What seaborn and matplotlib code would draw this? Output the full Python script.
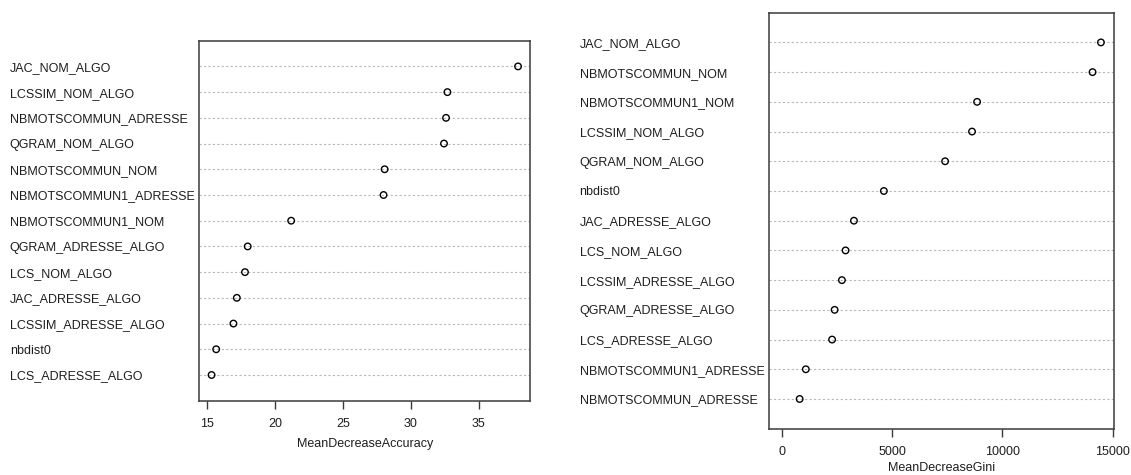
import matplotlib
matplotlib.use("Agg")
import matplotlib.pyplot as plt
import seaborn as sns
import pandas as pd

# ---- data ----
acc_features = ["JAC_NOM_ALGO", "LCSSIM_NOM_ALGO", "NBMOTSCOMMUN_ADRESSE", "QGRAM_NOM_ALGO",
                "NBMOTSCOMMUN_NOM", "NBMOTSCOMMUN1_ADRESSE", "NBMOTSCOMMUN1_NOM",
                "QGRAM_ADRESSE_ALGO", "LCS_NOM_ALGO", "JAC_ADRESSE_ALGO",
                "LCSSIM_ADRESSE_ALGO", "nbdist0", "LCS_ADRESSE_ALGO"]
acc_values = [37.9, 32.7, 32.6, 32.45, 28.08, 28.0, 21.2, 18.0, 17.8, 17.2, 16.95, 15.68, 15.34]
acc_ticks = [15, 20, 25, 30, 35]

gini_features = ["JAC_NOM_ALGO", "NBMOTSCOMMUN_NOM", "NBMOTSCOMMUN1_NOM", "LCSSIM_NOM_ALGO",
                 "QGRAM_NOM_ALGO", "nbdist0", "JAC_ADRESSE_ALGO", "LCS_NOM_ALGO",
                 "LCSSIM_ADRESSE_ALGO", "QGRAM_ADRESSE_ALGO", "LCS_ADRESSE_ALGO",
                 "NBMOTSCOMMUN1_ADRESSE", "NBMOTSCOMMUN_ADRESSE"]
gini_values = [14460, 14080, 8850, 8620, 7400, 4625, 3270, 2890, 2725, 2395, 2280, 1090, 810]
gini_ticks = [0, 5000, 10000, 15000]

sns.set_theme(style="white")
plt.rcParams["font.family"] = ["Liberation Sans", "DejaVu Sans"]

W, H = 1131, 475
fig = plt.figure(figsize=(W / 100, H / 100), dpi=100)

text_col = "#1e1e1e"
spine_col = "#3a3a3a"


def panel(rect, feats, vals, ticks, xlabel, xmin, labelpad):
    ax = fig.add_axes(rect)
    df = pd.DataFrame({"feature": feats, "value": vals})
    sns.scatterplot(data=df, x="value", y="feature", ax=ax, marker="o", s=22,
                    facecolor="none", edgecolor="black", linewidth=1.0, zorder=3)
    for c in ax.collections:
        c.set_facecolor("none")
        c.set_edgecolor("black")
        c.set_linewidth(1.0)
    xmax = max(vals)
    pad = 0.04 * (xmax - xmin)
    ax.set_xlim(xmin - pad, xmax + pad)
    ax.set_ylim(len(feats), -1)
    ax.set_xticks(ticks)
    ax.set_xticklabels([str(t) for t in ticks])
    ax.grid(axis="y", linestyle=(0, (2, 2)), color="#b8b8b8", linewidth=0.8)
    ax.grid(axis="x", visible=False)
    for s in ax.spines.values():
        s.set_visible(True)
        s.set_color(spine_col)
        s.set_linewidth(1.1)
    ax.tick_params(axis="y", length=0, pad=136.4, labelsize=9, labelcolor=text_col)
    for lab in ax.get_yticklabels():
        lab.set_horizontalalignment("left")
    ax.tick_params(axis="x", bottom=True, length=5.5, width=1.0, color=spine_col,
                   pad=7, labelsize=9, labelcolor=text_col)
    ax.set_xlabel(xlabel, fontsize=9, color=text_col, labelpad=labelpad)
    ax.set_ylabel("")
    return ax


panel([199.3 / W, (H - 400.7) / H, 331 / W, 360 / H],
      acc_features, acc_values, acc_ticks, "MeanDecreaseAccuracy", min(acc_values), 5.5)
panel([769 / W, (H - 428.7) / H, 344.7 / W, 416 / H],
      gini_features, gini_values, gini_ticks, "MeanDecreaseGini", 0, 2.5)

fig.savefig("out.png", dpi=100, facecolor="white")
